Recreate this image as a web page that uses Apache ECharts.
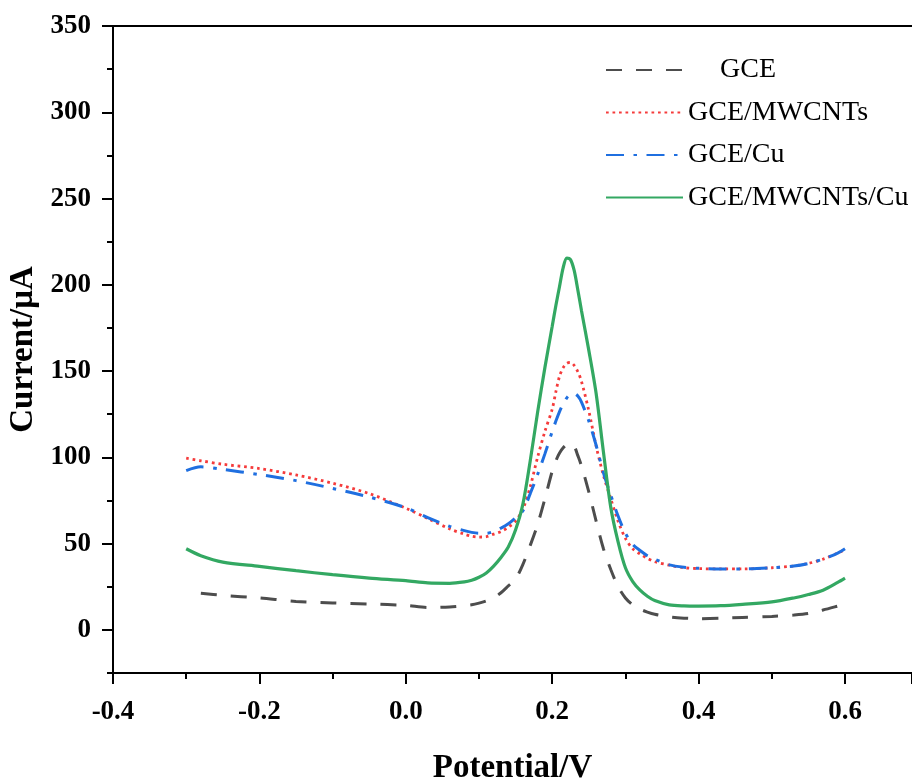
<!DOCTYPE html>
<html>
<head>
<meta charset="utf-8">
<title>DPV curves</title>
<script src="https://cdn.jsdelivr.net/npm/echarts@6/dist/echarts.min.js"></script>
<style>
  html, body { margin: 0; padding: 0; background: #ffffff; }
  #chart { width: 912px; height: 781px; }
</style>
</head>
<body>
<div id="chart"></div>
<script>
// Potential sampling points (V)
const potential = [-0.30, -0.28, -0.25, -0.20, -0.15, -0.10, -0.05, 0.00, 0.03, 0.06,
  0.08, 0.09, 0.10, 0.11, 0.12, 0.13, 0.14, 0.15, 0.16, 0.17,
  0.18, 0.19, 0.20, 0.205, 0.21, 0.215, 0.22, 0.225, 0.23, 0.235, 0.24,
  0.25, 0.26, 0.27, 0.28, 0.29, 0.30, 0.31, 0.32, 0.33, 0.34,
  0.36, 0.38, 0.40, 0.43, 0.46, 0.50, 0.53, 0.55, 0.57, 0.59, 0.60];

// Current (µA) for each electrode
const gce = [null, 21.2, 20.0, 18.5, 16.5, 15.6, 15.0, 14.2, 13.0, 13.3,
  14, 14.5, 15.5, 16.8, 18.5, 21.5, 25.5, 29.5, 38, 49,
  61, 76, 92, 98, 102.5, 105.5, 107.5, 108, 106.5, 101, 95,
  80, 63, 47, 35, 25, 18.5, 14.5, 12, 10.3, 9,
  7.5, 6.8, 6.5, 6.7, 7.2, 7.8, 8.6, 9.5, 11.5, 13.8, 15];

const gceMwcnts = [99.5, 98, 96, 93.5, 89.8, 85, 79, 70.5, 64.5, 58.5,
  55.5, 54.3, 53.8, 54, 55.5, 57, 59.5, 63, 70, 83,
  100, 115, 128, 138, 147, 152, 154.5, 155, 153.3, 149.6, 144,
  127, 106.5, 89.5, 76, 63, 53, 47, 44, 41.5, 39.5,
  37.5, 36, 35.5, 35.3, 35.3, 36, 37, 38.5, 41, 44.5, 46.5];

const gceCu = [92.3, 94.5, 93, 90, 86.5, 82, 77, 70.8, 65, 60,
  57.5, 56.5, 56, 56, 57, 59, 61.5, 65, 69, 79,
  90, 102, 115, 121, 126.5, 131, 134.5, 136.5, 137, 135.5, 132,
  121, 107, 91, 78, 66, 56, 49.5, 46, 43, 41,
  37.7, 36.3, 35.7, 35.3, 35.3, 36, 37, 38.5, 41, 44.5, 47];

const gceMwcntsCu = [47, 43, 39.3, 36.8, 34.3, 32, 30, 28.5, 27.2, 27.0,
  27.8, 28.8, 30.5, 33, 37, 42, 48, 58, 73, 98,
  126, 152, 176, 188, 199, 210, 215.5, 214.6, 208.3, 197, 185,
  162, 137, 103, 71, 51, 36, 28, 23, 19.5, 17,
  14.5, 13.9, 13.8, 14, 14.8, 16.2, 18.5, 20.5, 23, 27.5, 30];

// Axis tick values
const yMajorTicks = [0, 50, 100, 150, 200, 250, 300, 350];
const yMinorTicks = [-25, 25, 75, 125, 175, 225, 275, 325];

const seriesNames = ['GCE', 'GCE/MWCNTs', 'GCE/Cu', 'GCE/MWCNTs/Cu'];

function pairs(values) {
  return potential.map((x, i) => [x, values[i]]);
}

const serif = '"Liberation Serif", "Times New Roman", serif';

const chart = echarts.init(document.getElementById('chart'), null, { renderer: 'canvas' });

const option = {
  animation: false,
  backgroundColor: '#ffffff',
  grid: { left: 113, right: 0, top: 26, bottom: 108, containLabel: false, outerBoundsMode: 'none' },
  legend: {
    orient: 'vertical',
    left: 605,
    top: 55,
    padding: 0,
    itemWidth: 77,
    itemHeight: 14,
    itemGap: 12.5,
    data: seriesNames,
    itemStyle: { opacity: 0 },
    formatter: function (name) {
      return name === 'GCE' ? '{shift|' + name + '}' : name;
    },
    textStyle: {
      fontFamily: serif,
      fontSize: 28,
      lineHeight: 30,
      color: '#000000',
      rich: {
        shift: { fontFamily: serif, fontSize: 28, lineHeight: 30, color: '#000000', padding: [0, 0, 0, 32] }
      }
    }
  },
  xAxis: [
    {
      type: 'value',
      min: -0.4,
      max: 0.6915,
      interval: 0.2,
      name: 'Potential/V',
      nameLocation: 'middle',
      nameGap: 79,
      nameTextStyle: { fontFamily: serif, fontSize: 33, fontWeight: 'bold', color: '#000' },
      axisLine: { show: true, onZero: false, lineStyle: { color: '#000', width: 2 } },
      axisTick: { show: true, inside: false, length: 11, lineStyle: { color: '#000', width: 2 } },
      minorTick: { show: true, splitNumber: 2, length: 6, lineStyle: { color: '#000', width: 2 } },
      axisLabel: {
        margin: 26,
        fontFamily: serif, fontSize: 27, fontWeight: 'bold', color: '#000',
        showMaxLabel: false,
        formatter: v => v.toFixed(1)
      },
      splitLine: { show: false }
    },
    {
      type: 'value',
      position: 'top',
      min: -0.4,
      max: 0.6915,
      interval: 0.2,
      axisLine: { show: true, onZero: false, lineStyle: { color: '#000', width: 2 } },
      axisTick: { show: false },
      axisLabel: { show: false },
      splitLine: { show: false }
    }
  ],
  yAxis: [
    {
      type: 'value',
      min: -25,
      max: 350,
      name: 'Current/μA',
      nameLocation: 'middle',
      nameGap: 66,
      nameTextStyle: { fontFamily: serif, fontSize: 33, fontWeight: 'bold', color: '#000' },
      axisLine: { show: true, onZero: false, lineStyle: { color: '#000', width: 2 } },
      axisTick: { show: true, length: 11, customValues: yMajorTicks, lineStyle: { color: '#000', width: 2 } },
      axisLabel: {
        margin: 22,
        customValues: yMajorTicks,
        fontFamily: serif, fontSize: 27, fontWeight: 'bold', color: '#000'
      },
      splitLine: { show: false }
    },
    {
      type: 'value',
      position: 'left',
      offset: 0,
      min: -25,
      max: 350,
      axisLine: { show: false, onZero: false },
      axisTick: { show: true, length: 6, customValues: yMinorTicks, lineStyle: { color: '#000', width: 2 } },
      axisLabel: { show: false },
      splitLine: { show: false }
    }
  ],
  series: [
    {
      name: 'GCE', type: 'line', data: pairs(gce), smooth: 0.3, symbol: 'none',
      lineStyle: { color: '#4d4d4d', width: 3, type: [16, 14] },
      itemStyle: { color: '#4d4d4d' }
    },
    {
      name: 'GCE/MWCNTs', type: 'line', data: pairs(gceMwcnts), smooth: 0.3, symbol: 'none',
      lineStyle: { color: '#f53b3b', width: 2.8, type: [2.7, 3.8] },
      itemStyle: { color: '#f53b3b' }
    },
    {
      name: 'GCE/Cu', type: 'line', data: pairs(gceCu), smooth: 0.3, symbol: 'none',
      lineStyle: { color: '#1f6fe0', width: 3, type: [18, 9.5, 3.5, 9.5] },
      itemStyle: { color: '#1f6fe0' }
    },
    {
      name: 'GCE/MWCNTs/Cu', type: 'line', data: pairs(gceMwcntsCu), smooth: 0.3, symbol: 'none',
      lineStyle: { color: '#33a862', width: 3.2, type: 'solid' },
      itemStyle: { color: '#33a862' }
    }
  ]
};

chart.setOption(option);
</script>
</body>
</html>
